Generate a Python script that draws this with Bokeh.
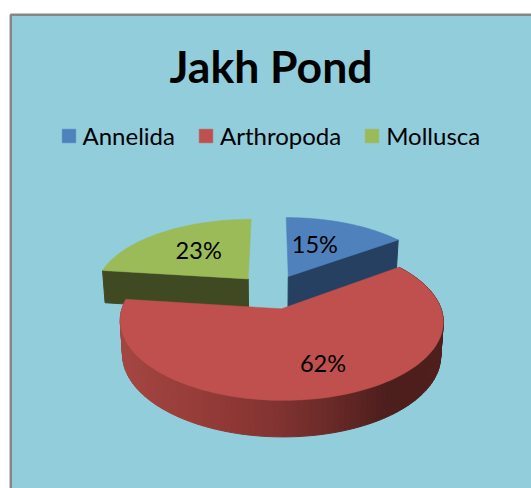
import numpy as np
from bokeh.core.properties import value
from bokeh.embed import file_html
from bokeh.models import Legend, LegendItem, Range1d
from bokeh.plotting import figure
from bokeh.resources import INLINE

TITLE = "Jakh Pond"
categories = ["Annelida", "Arthropoda", "Mollusca"]
shares = [15, 62, 23]
top_colors = ["#4F81BD", "#C0504D", "#9BBB59"]
wall_colors = ["#254061", None, "#3F4A22"]

# Label anchors on the pie plane: clockwise angle from 12 o'clock, fraction of radius
label_angles = [21, 160, 321.3]
label_radii = [0.558, 0.669, 0.58]

# Perspective model of the tilted disc, in page pixels
CX, CY = 271.5, 291.0
RX, RY = 154.0, 72.0
PERSPECTIVE = 0.15
EXPLODE = 0.24
DEPTH = 33.0
BASE_SCALE = 0.985

# Shading across the outer wall of the large slice: page x, then RGB
shade_x = [120, 200, 270, 330, 390, 443]
shade_r = [165, 150, 132, 106, 76, 80]
shade_g = [70, 60, 52, 42, 30, 31]
shade_b = [66, 57, 50, 40, 28, 30]


def project(u, v):
    w = 1 - PERSPECTIVE * np.asarray(v)
    return CX + RX * np.asarray(u) / w, CY + RY * np.asarray(v) / w


def lowered(x, y, v):
    """Page position of the disc's base below a point on its top face."""
    w = 1 - PERSPECTIVE * np.asarray(v)
    return CX + (x - CX) * BASE_SCALE, y + DEPTH / np.sqrt(w)


def offset(mid):
    return EXPLODE * np.sin(mid), -EXPLODE * np.cos(mid)


p = figure(width=531, height=488, output_backend="svg", toolbar_location=None,
           x_range=Range1d(0, 531), y_range=Range1d(488, 0), min_border=0,
           background_fill_color="white", border_fill_color="white")
p.axis.visible = False
p.grid.visible = False
p.outline_line_color = None

# Chart area, running off the right and bottom of the page
p.quad(left=[10.3], right=[560], top=[14.3], bottom=[520], fill_color="#92CDDC",
       line_color="#868686", line_width=2.5)

total = sum(shares)
edges = np.concatenate([[0], np.cumsum(shares)]) / total * 2 * np.pi
slices = []
for i in range(len(shares)):
    start, end = edges[i], edges[i + 1]
    ou, ov = offset((start + end) / 2)
    theta = np.linspace(start, end, 120)
    slices.append(dict(start=start, end=end, ou=ou, ov=ov, theta=theta,
                       u=ou + np.sin(theta), v=ov - np.cos(theta)))

# Radial walls of the two small slices, seen behind the large one
for i, edge_key in ((0, "end"), (2, "start")):
    s = slices[i]
    rim_u, rim_v = s["ou"] + np.sin(s[edge_key]), s["ov"] - np.cos(s[edge_key])
    ax, ay = project(s["ou"], s["ov"])
    rx, ry = project(rim_u, rim_v)
    bax, bay = lowered(ax, ay, s["ov"])
    brx, bry = lowered(rx, ry, rim_v)
    p.patch(x=[ax, rx, brx, bax], y=[ay, ry, bry, bay], fill_color=wall_colors[i],
            line_color=wall_colors[i], line_width=1)

# Top faces of the small slices
top_renderers = {}
for i in (0, 2):
    s = slices[i]
    x, y = project(np.r_[s["ou"], s["u"]], np.r_[s["ov"], s["v"]])
    top_renderers[i] = p.patch(x=x, y=y, fill_color=top_colors[i], line_color=top_colors[i], line_width=0.5)

# Outer wall of the large slice, drawn as narrow shaded strips
s = slices[1]
x, y = project(s["u"], s["v"])
bx, by = lowered(x, y, s["v"])
for j in range(len(x) - 1):
    mid = (x[j] + x[j + 1]) / 2
    color = "#%02x%02x%02x" % (int(np.interp(mid, shade_x, shade_r)),
                               int(np.interp(mid, shade_x, shade_g)),
                               int(np.interp(mid, shade_x, shade_b)))
    p.patch(x=[x[j], x[j + 1], bx[j + 1], bx[j]], y=[y[j], y[j + 1], by[j + 1], by[j]],
            fill_color=color, line_color=color, line_width=1)

# Top face of the large slice
ax, ay = project(s["ou"], s["ov"])
top_renderers[1] = p.patch(x=np.r_[ax, x], y=np.r_[ay, y], fill_color=top_colors[1],
                           line_color=top_colors[1], line_width=0.5)

# Percentage labels
for i, share in enumerate(shares):
    a = np.radians(label_angles[i])
    lx, ly = project(slices[i]["ou"] + label_radii[i] * np.sin(a),
                     slices[i]["ov"] - label_radii[i] * np.cos(a))
    p.text(x=[float(lx)], y=[float(ly)], text=[f"{share}%"], text_font=value("Lato"),
           text_font_size="23.5px", text_color="#000000", text_align="center", text_baseline="middle")

p.text(x=[270.5], y=[65], text=[TITLE], text_font=value("Lato"), text_font_style="bold",
       text_font_size="44.5px", text_color="#000000", text_align="center", text_baseline="middle")

legend = Legend(items=[LegendItem(label=c, renderers=[top_renderers[i]]) for i, c in enumerate(categories)],
                orientation="horizontal", location=(59.5, 338), padding=0, margin=0, spacing=22,
                glyph_width=17, glyph_height=17, label_standoff=6, border_line_color=None,
                background_fill_alpha=0, label_text_font="Lato", label_text_font_size="24px",
                label_text_color="#000000", label_height=17)
p.add_layout(legend, "center")

open("out.html", "w").write(file_html(p, INLINE))
